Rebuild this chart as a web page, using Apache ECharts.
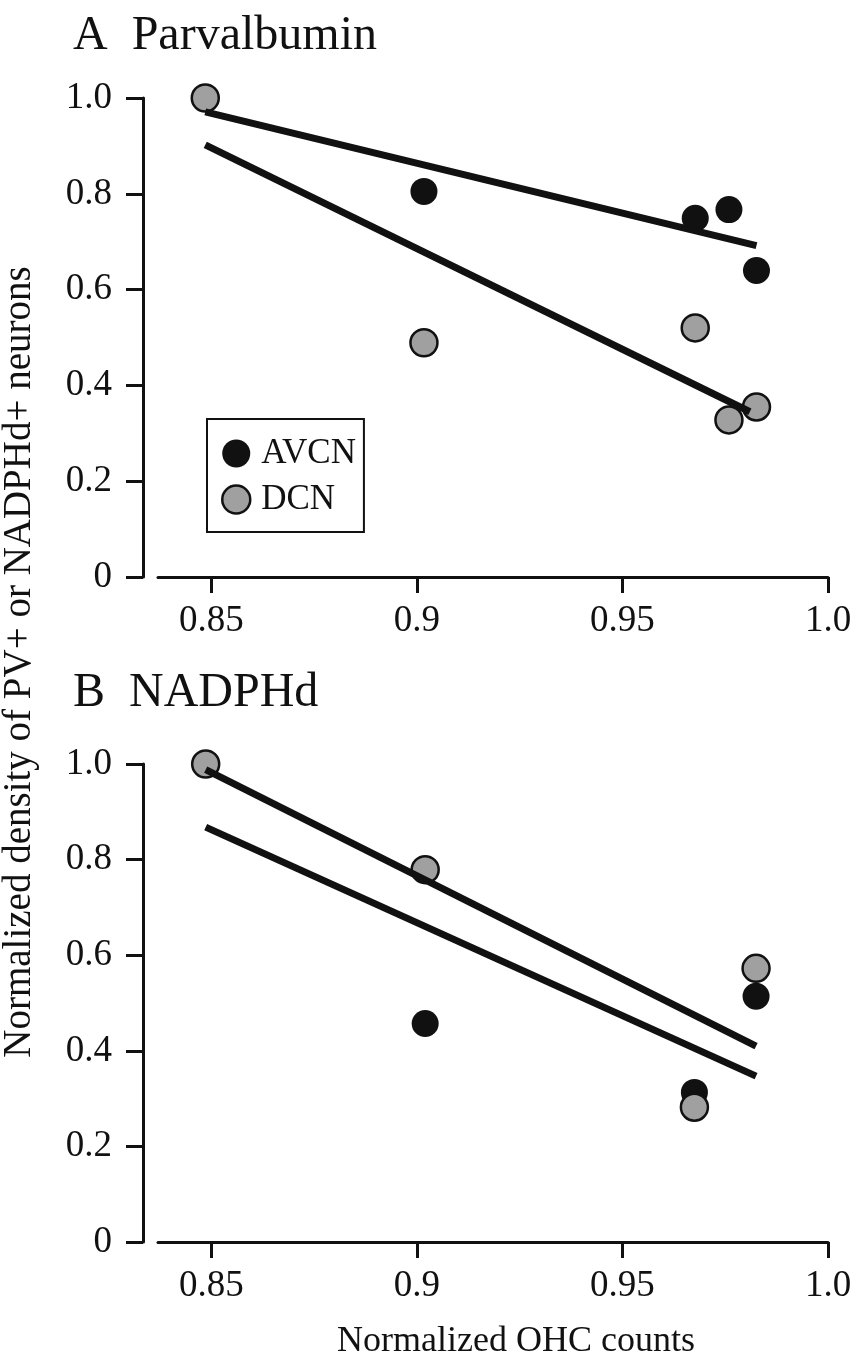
<!DOCTYPE html>
<html>
<head>
<meta charset="utf-8">
<script src="https://cdn.jsdelivr.net/npm/echarts@6/dist/echarts.min.js"></script>
<style>
  html, body { margin: 0; padding: 0; background: #fff; }
  #main { width: 856px; height: 1359px; }
</style>
</head>
<body>
<div id="main"></div>
<script>
// 横轴刻度
var X_TICKS = [0.85, 0.9, 0.95, 1.0];
var X_LABELS = ['0.85', '0.9', '0.95', '1.0'];
var Y_TICKS = [0, 0.2, 0.4, 0.6, 0.8, 1.0];
var Y_LABELS = ['0', '0.2', '0.4', '0.6', '0.8', '1.0'];

// A Parvalbumin
var xA = [0.8485, 0.9017, 0.9677, 0.9759, 0.9826];
var avcnA = [1.0, 0.805, 0.749, 0.767, 0.640];
var dcnA = [1.0, 0.489, 0.520, 0.328, 0.355];
var fitA_avcn = [[0.8485, 0.971], [0.9826, 0.692]];
var fitA_dcn = [[0.8485, 0.902], [0.9810, 0.345]];

// B NADPHd
var xB = [0.8486, 0.902, 0.9675, 0.9825];
var avcnB = [1.0, 0.457, 0.313, 0.514];
var dcnB = [1.0, 0.779, 0.282, 0.5725];
var fitB_dcn = [[0.8486, 0.988], [0.9825, 0.410]];
var fitB_avcn = [[0.8486, 0.868], [0.9825, 0.347]];

var FONT = 'Liberation Serif';
var INK = '#111';
var GRAY = '#a0a0a0';

function pairs(xs, ys) {
  var out = [];
  for (var i = 0; i < xs.length; i++) out.push([xs[i], ys[i]]);
  return out;
}

function labelOf(ticks, labels) {
  return function (v) {
    for (var i = 0; i < ticks.length; i++) {
      if (Math.abs(ticks[i] - v) < 1e-6) return labels[i];
    }
    return '';
  };
}

function xAxisFor(idx) {
  return {
    gridIndex: idx, type: 'value', min: 0.837, max: 1.0,
    axisLine: { show: true, onZero: false, lineStyle: { color: INK, width: 3 } },
    axisTick: { show: true, length: 16, customValues: X_TICKS, lineStyle: { color: INK, width: 3 } },
    axisLabel: {
      customValues: X_TICKS, formatter: labelOf(X_TICKS, X_LABELS),
      color: INK, fontFamily: FONT, fontSize: 37, margin: 26
    },
    splitLine: { show: false }
  };
}

function yAxisFor(idx) {
  return {
    gridIndex: idx, type: 'value', min: 0, max: 1.0, offset: 15,
    axisLine: { show: true, lineStyle: { color: INK, width: 3 } },
    axisTick: { show: true, length: 17, customValues: Y_TICKS, lineStyle: { color: INK, width: 3 } },
    axisLabel: {
      customValues: Y_TICKS, formatter: labelOf(Y_TICKS, Y_LABELS),
      color: INK, fontFamily: FONT, fontSize: 37, margin: 31
    },
    splitLine: { show: false }
  };
}

function dots(name, idx, data, color) {
  return {
    name: name, type: 'scatter', xAxisIndex: idx, yAxisIndex: idx,
    data: data, symbol: 'circle', symbolSize: 27, clip: false, z: 2,
    itemStyle: { color: color, borderColor: INK, borderWidth: color === INK ? 0 : 2.5, opacity: 1 }
  };
}

function fit(idx, data) {
  return {
    name: 'fit', type: 'line', xAxisIndex: idx, yAxisIndex: idx,
    data: data, symbol: 'none', clip: false, z: 3, silent: true,
    lineStyle: { color: INK, width: 7 }
  };
}

var myChart = echarts.init(document.getElementById('main'));

myChart.setOption({
  backgroundColor: '#fff',
  animation: false,
  title: [
    { text: 'A  Parvalbumin', left: 68, top: 7, textStyle: { fontFamily: FONT, fontWeight: 'normal', fontSize: 48, color: INK } },
    { text: 'B  NADPHd', left: 68, top: 664, textStyle: { fontFamily: FONT, fontWeight: 'normal', fontSize: 48, color: INK } }
  ],
  legend: {
    left: 207, top: 419, orient: 'vertical',
    borderColor: INK, borderWidth: 2, padding: [17, 8, 15, 14],
    itemWidth: 28, itemHeight: 28, itemGap: 11,
    textStyle: { fontFamily: FONT, fontSize: 35, color: INK, padding: [0, 0, 0, 6] },
    data: [
      { name: 'AVCN', icon: 'circle', itemStyle: { color: INK, borderWidth: 0 } },
      { name: 'DCN', icon: 'circle', itemStyle: { color: GRAY, borderColor: INK, borderWidth: 2.5 } }
    ],
    selectedMode: false
  },
  grid: [
    { left: 158, right: 28, top: 98, height: 479 },
    { left: 158, right: 28, top: 764, height: 478 }
  ],
  xAxis: [xAxisFor(0), xAxisFor(1)],
  yAxis: [yAxisFor(0), yAxisFor(1)],
  graphic: [
    {
      type: 'text', x: 20, y: 662, rotation: Math.PI / 2,
      style: {
        text: 'Normalized density of PV+ or NADPHd+ neurons',
        fontFamily: FONT, fontSize: 39, fill: INK,
        textAlign: 'center', textVerticalAlign: 'middle'
      }
    },
    {
      type: 'text', x: 516, y: 1342,
      style: {
        text: 'Normalized OHC counts',
        fontFamily: FONT, fontSize: 36, fill: INK,
        textAlign: 'center', textVerticalAlign: 'middle'
      }
    }
  ],
  series: [
    dots('AVCN', 0, pairs(xA, avcnA), INK),
    dots('DCN', 0, pairs(xA, dcnA), GRAY),
    fit(0, fitA_avcn),
    fit(0, fitA_dcn),
    dots('AVCN', 1, pairs(xB, avcnB), INK),
    dots('DCN', 1, pairs(xB, dcnB), GRAY),
    fit(1, fitB_dcn),
    fit(1, fitB_avcn)
  ]
});

window.onresize = myChart.resize;
</script>
</body>
</html>
